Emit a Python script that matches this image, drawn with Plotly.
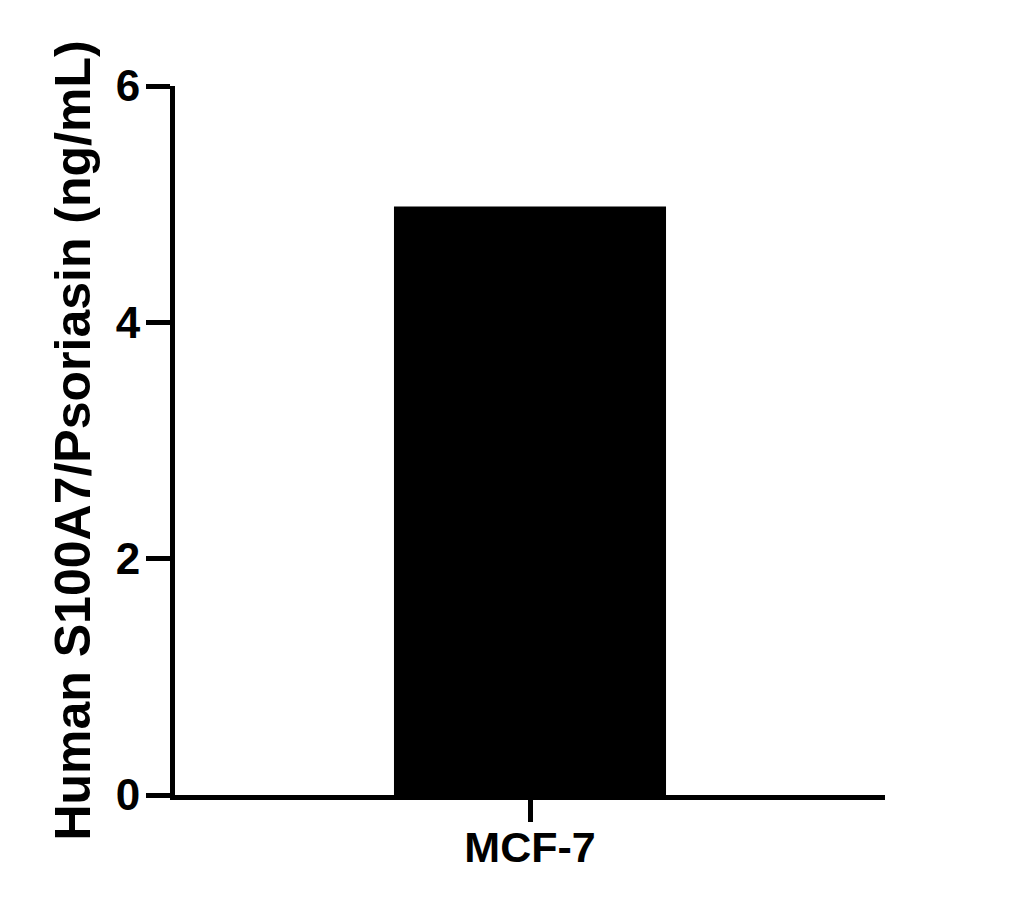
import plotly.graph_objects as go

categories = ["MCF-7"]
values = [4.98]
y_ticks = [0, 2, 4, 6]

FONT = "Liberation Sans"

fig = go.Figure(go.Bar(
    x=categories, y=values, width=[0.8],
    marker=dict(color="black", line=dict(width=0)),
))

fig.update_layout(
    width=1009, height=904,
    paper_bgcolor="white", plot_bgcolor="white",
    margin=dict(l=167, r=132, t=78, b=117),
    showlegend=False,
    font=dict(family=FONT, color="black"),
)
fig.update_xaxes(
    range=[-1.044, 1.044],
    showline=True, linecolor="black", linewidth=5,
    ticks="outside", ticklen=22, tickwidth=5, tickcolor="black",
    tickfont=dict(family=FONT, size=43, color="black", weight="bold"),
    ticklabelstandoff=-12,
    showgrid=False, zeroline=False,
)
fig.update_yaxes(
    range=[0, 6], tickvals=y_ticks,
    showline=True, linecolor="black", linewidth=5,
    ticks="outside", ticklen=24, tickwidth=5, tickcolor="black",
    tickfont=dict(family=FONT, size=44, color="black", weight="bold"),
    ticklabelstandoff=-3,
    showgrid=False, zeroline=False,
    title=dict(text="<b>Human S100A7/Psoriasin (ng/mL)</b>",
               font=dict(family=FONT, size=50, color="black"), standoff=11),
)

fig.write_html("out.html")
